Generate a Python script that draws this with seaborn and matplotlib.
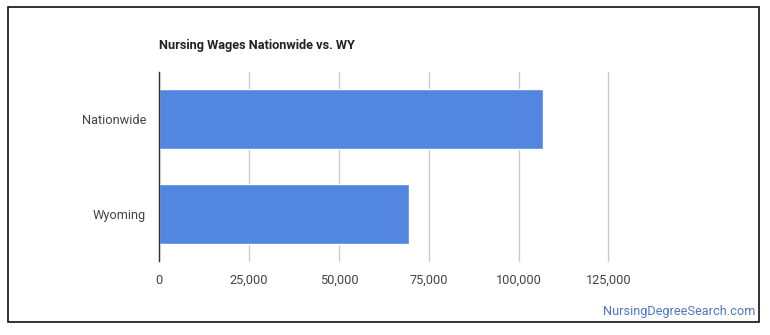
import matplotlib
matplotlib.use("Agg")
import matplotlib.pyplot as plt
import seaborn as sns
import pandas as pd
from matplotlib.patches import Rectangle
from matplotlib.ticker import FuncFormatter

categories = ["Nationwide", "Wyoming"]
wages = [106900, 69600]
x_ticks = [0, 25000, 50000, 75000, 100000, 125000]

sns.set_theme(style="white")
plt.rcParams['font.family'] = ['Roboto', 'DejaVu Sans']

df = pd.DataFrame({"region": categories, "wage": wages})

W, H = 770, 335
fig = plt.figure(figsize=(W / 100, H / 100), dpi=100)
ax = fig.add_axes([159.3 / W, 1 - 261 / H, (608.3 - 159.3) / W, (261 - 72) / H])

sns.barplot(data=df, x="wage", y="region", orient="h", color="#5286e0",
            saturation=1, width=0.64, ax=ax, zorder=3)

ax.set_xlim(0, 125000)
ax.set_ylim(1.5, -0.5)
ax.set_xticks(x_ticks)
ax.xaxis.set_major_formatter(FuncFormatter(lambda v, p: f"{int(v):,}"))
ax.grid(axis="x", color="#cccccc", linewidth=1, zorder=0)
for gl in ax.get_xgridlines():
    gl.set_clip_on(False)
ax.set_axisbelow(True)
for s in ["top", "right", "bottom"]:
    ax.spines[s].set_visible(False)
ax.spines["left"].set_color("#333333")
ax.spines["left"].set_linewidth(1)
ax.spines["left"].set_zorder(4)
ax.set_xlabel("")
ax.set_ylabel("")
ax.tick_params(axis="both", length=0, labelsize=9.2, labelcolor="#444444")
ax.tick_params(axis="x", pad=9)
ax.tick_params(axis="y", pad=9.5)

fig.text(159 / W, 1 - 46 / H, "Nursing Wages Nationwide vs. WY", fontsize=9.2,
         fontweight="bold", color="#222222", ha="left", va="center")
fig.text(755 / W, 1 - 312 / H, "NursingDegreeSearch.com", fontsize=9.2,
         color="#4a78c4", ha="right", va="center")

fig.add_artist(Rectangle((8 / W, 1 - 322 / H), (759 - 8) / W, (322 - 7) / H,
                         transform=fig.transFigure, fill=False,
                         edgecolor="#111111", linewidth=1.2))

fig.savefig("out.png", dpi=100)
